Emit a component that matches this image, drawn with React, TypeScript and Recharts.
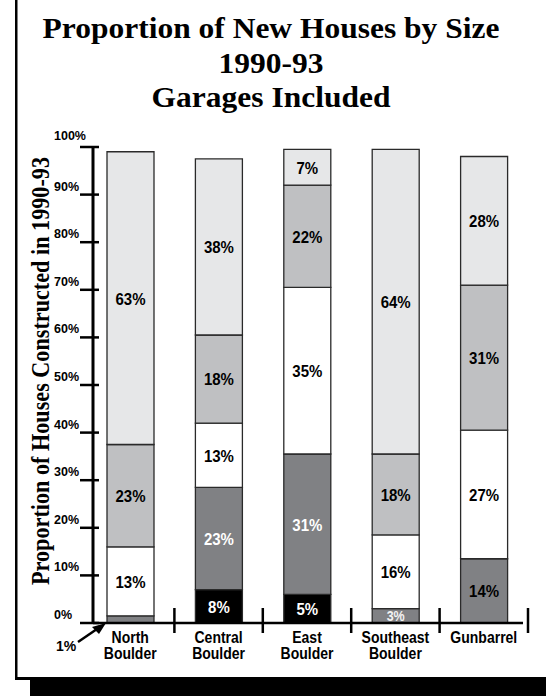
import React from 'react'
import { BarChart, Bar, XAxis, YAxis, LabelList } from 'recharts'

const CATEGORIES = ['North Boulder', 'Central Boulder', 'East Boulder', 'Southeast Boulder', 'Gunbarrel']

// stacked segments, bottom to top, % of houses
const SIZE_1 = [0, 7, 6, 0, 0]
const SIZE_2 = [1.5, 21.5, 29.5, 3, 13.5]
const SIZE_3 = [14.5, 13.5, 35, 15.5, 27]
const SIZE_4 = [21.5, 18.5, 21.5, 17, 30.5]
const SIZE_5 = [61.5, 37, 7.5, 64, 27]

// printed segment labels
const LABEL_1 = ['', '8%', '5%', '', '']
const LABEL_2 = ['', '23%', '31%', '3%', '14%']
const LABEL_3 = ['13%', '13%', '35%', '16%', '27%']
const LABEL_4 = ['23%', '18%', '22%', '18%', '31%']
const LABEL_5 = ['63%', '38%', '7%', '64%', '28%']

const Y_TICKS = [0, 10, 20, 30, 40, 50, 60, 70, 80, 90, 100]

const TITLE = ['Proportion of New Houses by Size', '1990-93', 'Garages Included']
const Y_TITLE = 'Proportion of Houses Constructed in 1990-93'

const W = 546
const H = 696
const PLOT_LEFT = 93
const PLOT_RIGHT = 523
const PLOT_TOP = 147
const PLOT_BOTTOM = 623
const PAD_L = -7
const PAD_R = -5
const BAND = (PLOT_RIGHT - PLOT_LEFT - PAD_L - PAD_R) / CATEGORIES.length

const SANS = '"Liberation Sans", Arial, Helvetica, sans-serif'
const SERIF = '"Liberation Serif", "Times New Roman", serif'

const data = CATEGORIES.map((name, i) => ({
  name,
  idx: i,
  s1: SIZE_1[i],
  s2: SIZE_2[i],
  s3: SIZE_3[i],
  s4: SIZE_4[i],
  s5: SIZE_5[i],
}))

const SERIES = [
  { key: 's1', fill: '#000000', labels: LABEL_1, text: ['#fff', '#fff', '#fff', '#fff', '#fff'] },
  { key: 's2', fill: '#808184', labels: LABEL_2, text: ['#fff', '#fff', '#fff', '#f2f2f2', '#000'] },
  { key: 's3', fill: '#ffffff', labels: LABEL_3, text: ['#000', '#000', '#000', '#000', '#000'] },
  { key: 's4', fill: '#bfc0c2', labels: LABEL_4, text: ['#000', '#000', '#000', '#000', '#000'] },
  { key: 's5', fill: '#e6e7e8', labels: LABEL_5, text: ['#000', '#000', '#000', '#000', '#000'] },
]

// label content: the LabelList value is the category index
const segLabel = (labels: string[], colours: string[]) => (props: any) => {
  const vb = props.viewBox ?? props
  const { x, y, width, height } = vb
  const idx = Number(props.value)
  const txt = labels[idx]
  if (!txt || !height) return null
  const small = Math.abs(height) < 18
  return (
    <text
      transform={`translate(${x + width / 2}, ${y + height / 2}) scale(1, 1.15)`}
      textAnchor="middle"
      dominantBaseline="central"
      fill={colours[idx]}
      fontFamily={SANS}
      fontWeight="bold"
      fontSize={small ? 12.5 : 15}
    >
      {txt}
    </text>
  )
}

const YTick = (props: any) => {
  const { y, payload } = props
  const dy = payload.value === 100 ? -7 : -4
  return (
    <g>
      <line x1={PLOT_LEFT - 13} x2={PLOT_LEFT + 6} y1={y} y2={y} stroke="#000" strokeWidth={2.5} />
      <text x={54} y={y + dy} fontFamily={SANS} fontWeight="bold" fontSize={12.5} fill="#000">
        {payload.value}%
      </text>
    </g>
  )
}

const XTick = (props: any) => {
  const { x, payload } = props
  const words = String(payload.value).split(' ')
  const right = x + BAND / 2
  return (
    <g>
      <line x1={right} x2={right} y1={PLOT_BOTTOM - 15} y2={PLOT_BOTTOM + 10} stroke="#000" strokeWidth={2.5} />
      {words.map((w, i) => (
        <text
          key={i}
          transform={`translate(${x}, ${PLOT_BOTTOM + 20 + i * 16}) scale(1, 1.12)`}
          textAnchor="middle"
          fontFamily={SANS}
          fontWeight="bold"
          fontSize={14}
          fill="#000"
        >
          {w}
        </text>
      ))}
    </g>
  )
}

export default function App() {
  return (
    <div style={{ position: 'absolute', left: 0, top: 0, width: W, height: H, background: '#fff', overflow: 'hidden' }}>
      <div style={{ position: 'absolute', left: 0, top: 0 }}>
        <BarChart
          width={W}
          height={H}
          data={data}
          margin={{ top: PLOT_TOP, right: W - PLOT_RIGHT, bottom: 0, left: 0 }}
          barSize={47}
        >
          <XAxis
            dataKey="name"
            height={H - PLOT_BOTTOM}
            padding={{ left: PAD_L, right: PAD_R }}
            axisLine={{ stroke: '#000', strokeWidth: 2.5 }}
            tickLine={false}
            tick={<XTick />}
            interval={0}
          />
          <YAxis
            width={PLOT_LEFT}
            domain={[0, 100]}
            ticks={Y_TICKS}
            axisLine={{ stroke: '#000', strokeWidth: 3 }}
            tickLine={false}
            tick={<YTick />}
            interval={0}
          />
          {SERIES.map(s => (
            <Bar
              key={s.key}
              dataKey={s.key}
              stackId="a"
              fill={s.fill}
              stroke="#2a2a2a"
              strokeWidth={1.3}
              isAnimationActive={false}
            >
              <LabelList dataKey="idx" content={segLabel(s.labels, s.text)} />
            </Bar>
          ))}
        </BarChart>
      </div>
      <svg width={W} height={H} style={{ position: 'absolute', left: 0, top: 0, pointerEvents: 'none' }}>
        {/* frame and shadow */}
        <rect x={15} y={0} width={2.5} height={680} fill="#000" />
        <rect x={15} y={677} width={W - 15} height={3} fill="#000" />
        <rect x={30} y={680} width={W - 30} height={H - 680} fill="#000" />

        {TITLE.map((t, i) => (
          <text
            key={t}
            transform={`translate(271, ${[38, 73, 107][i]}) scale(1.05, 1)`}
            textAnchor="middle"
            fontFamily={SERIF}
            fontWeight="bold"
            fontSize={30}
            fill="#000"
          >
            {t}
          </text>
        ))}

        <text
          transform="translate(49, 371) rotate(-90)"
          textAnchor="middle"
          fontFamily={SERIF}
          fontWeight="bold"
          fontSize={26}
          textLength={428}
          lengthAdjust="spacingAndGlyphs"
          fill="#000"
        >
          {Y_TITLE}
        </text>

        {/* 1% callout for North Boulder */}
        <text x={56} y={651} fontFamily={SANS} fontWeight="bold" fontSize={14} fill="#000">
          1%
        </text>
        <line x1={78} y1={642} x2={97} y2={629} stroke="#000" strokeWidth={2.5} />
        <polygon points="106,623 92,627 99,634" fill="#000" />
      </svg>
    </div>
  )
}
